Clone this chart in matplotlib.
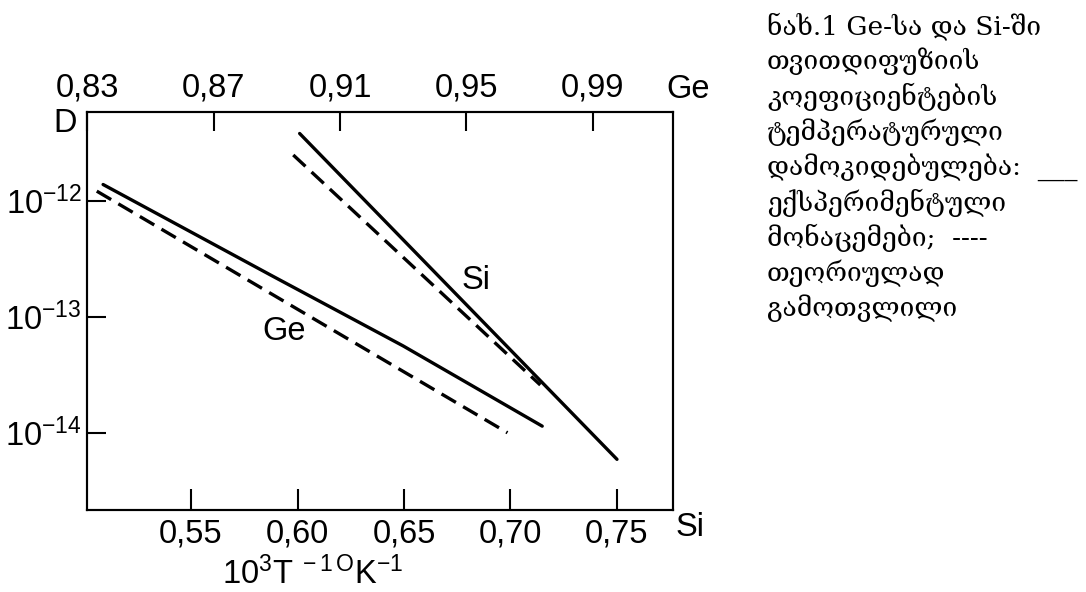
import matplotlib
matplotlib.use("Agg")
import matplotlib.pyplot as plt
import numpy as np
from matplotlib.ticker import FixedLocator, NullLocator

plt.rcParams["font.family"] = ["Liberation Sans", "DejaVu Sans"]
plt.rcParams["mathtext.fontset"] = "custom"
plt.rcParams["mathtext.rm"] = "Liberation Sans"
plt.rcParams["mathtext.it"] = "Liberation Sans"

# bottom axis: Si, 10^3/T
si_ticks = [0.55, 0.60, 0.65, 0.70, 0.75]
si_tick_labels = ["0,55", "0,60", "0,65", "0,70", "0,75"]
# top axis: Ge, 10^3/T
ge_ticks = [0.83, 0.87, 0.91, 0.95, 0.99]
ge_tick_labels = ["0,83", "0,87", "0,91", "0,95", "0,99"]
d_ticks = [1e-12, 1e-13, 1e-14]

# Si: experimental (solid) and calculated (dashed)
si_exp_x = [0.601, 0.750]
si_exp_d = [3.80e-12, 5.9e-15]
si_calc_x = [0.598, 0.714]
si_calc_d = [2.48e-12, 2.58e-14]

# Ge: experimental (solid) and calculated (dashed)
ge_exp_x = [0.835, 0.888, 0.930, 0.974]
ge_exp_d = [1.38e-12, 2.29e-13, 5.6e-14, 1.14e-14]
ge_calc_x = [0.833, 0.963]
ge_calc_d = [1.21e-12, 1.0e-14]

caption = ("ნახ.1 Ge-სა და Si-ში\n"
           "თვითდიფუზიის\n"
           "კოეფიციენტების\n"
           "ტემპერატურული\n"
           "დამოკიდებულება:  ___\n"
           "ექსპერიმენტული\n"
           "მონაცემები;  ----\n"
           "თეორიულად\n"
           "გამოთვლილი")

W, H = 1086, 592
fig = plt.figure(figsize=(W / 100, H / 100), dpi=100)
fig.patch.set_facecolor("white")
ax = fig.add_axes([87.3 / W, 1 - 510 / H, (673 - 87.3) / W, (510 - 112) / H])

lw = 2.4
ax.plot(si_exp_x, si_exp_d, color="black", lw=lw, solid_capstyle="round")
ax.plot(si_calc_x, si_calc_d, color="black", lw=lw, dashes=(5, 2.5))
ax.set_yscale("log")
ax.set_xlim(0.5013, 0.7763)
ax.set_ylim(10 ** -14.666, 10 ** -11.235)

ax_ge = ax.twiny()
ax_ge.plot(ge_exp_x, ge_exp_d, color="black", lw=lw, solid_capstyle="round",
           solid_joinstyle="round")
ax_ge.plot(ge_calc_x, ge_calc_d, color="black", lw=lw, dashes=(5, 2.5))
ax_ge.set_xlim(0.83, 1.0154)

fs = 23.5
ax.xaxis.set_major_locator(FixedLocator(si_ticks))
ax.set_xticklabels(si_tick_labels)
ax.yaxis.set_major_locator(FixedLocator(d_ticks))
ax.yaxis.set_minor_locator(NullLocator())
ax.set_yticklabels([r"$\mathregular{10^{-12}}$", r"$\mathregular{10^{-13}}$",
                    r"$\mathregular{10^{-14}}$"])
ax_ge.xaxis.set_major_locator(FixedLocator(ge_ticks))
ax_ge.set_xticklabels(ge_tick_labels)

ax.tick_params(axis="x", direction="in", length=15, width=1.5, pad=6, labelsize=fs)
ax.tick_params(axis="y", direction="in", length=14, width=1.5, pad=4, labelsize=fs)
ax_ge.tick_params(axis="x", direction="in", length=14, width=1.5, pad=6, labelsize=fs)
for a in (ax, ax_ge):
    for s in a.spines.values():
        s.set_linewidth(1.5)

# axis annotations
fig.text(65 / W, 1 - 124 / H, "D", fontsize=fs, ha="center", va="center")
fig.text(688 / W, 1 - 90 / H, "Ge", fontsize=fs, ha="center", va="center")
fig.text(690 / W, 1 - 528 / H, "Si", fontsize=fs, ha="center", va="center")
fig.text(313 / W, 1 - 591 / H, r"$\mathregular{10^3T^{\ -1\,O}K^{-1}}$",
         fontsize=fs, ha="center", va="bottom")
ax.text(476 / W, 1 - 280 / H, "Si", fontsize=fs, ha="center", va="center",
        transform=fig.transFigure)
ax.text(284 / W, 1 - 331 / H, "Ge", fontsize=fs, ha="center", va="center",
        transform=fig.transFigure)

fig.text(767 / W, 1 - 12 / H, caption, fontsize=19, ha="left", va="top",
         family=["DejaVu Serif", "DejaVu Sans"], linespacing=1.34)

fig.savefig("out.png", dpi=100, facecolor="white")
